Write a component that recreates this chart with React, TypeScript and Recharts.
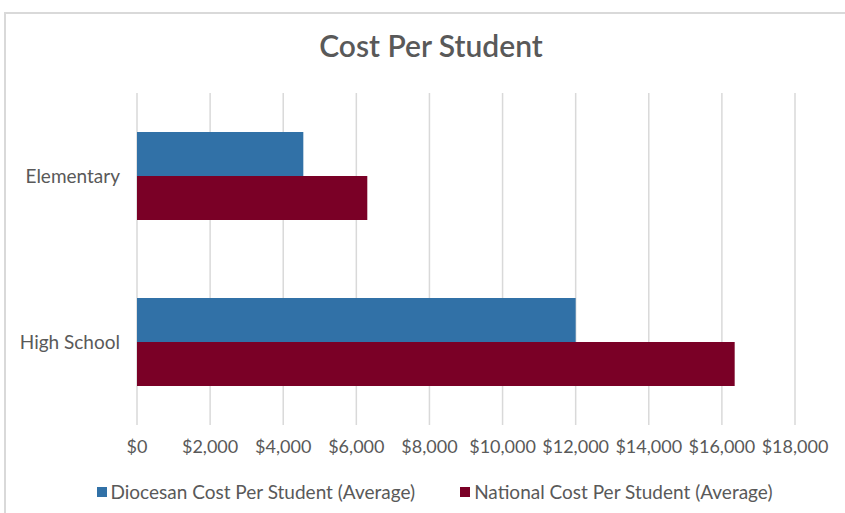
import React from "react";
import { BarChart, Bar, XAxis, YAxis, CartesianGrid, Legend } from "recharts";

const categories = ["Elementary", "High School"];
const diocesanCost = [4550, 12000];
const nationalCost = [6300, 16350];
const xTicks = [0, 2000, 4000, 6000, 8000, 10000, 12000, 14000, 16000, 18000];

const seriesNames = ["Diocesan Cost Per Student (Average)", "National Cost Per Student (Average)"];
const COLORS = ["#3171a7", "#7a0026"];

const data = categories.map((name, i) => ({
  name,
  diocesan: diocesanCost[i],
  national: nationalCost[i],
}));

const FONT = "Lato, 'Open Sans', sans-serif";
const TEXT = "#595959";

const fmtMoney = (v: number) => "$" + v.toLocaleString("en-US");

const LegendBox = () => (
  <div style={{ display: "flex", justifyContent: "center", fontFamily: FONT, fontSize: 19, color: TEXT, lineHeight: "23px", paddingLeft: 24 }}>
    {seriesNames.map((n, i) => (
      <span key={n} style={{ display: "inline-flex", alignItems: "center", marginRight: i === 0 ? 45 : 0 }}>
        <span style={{ width: 10, height: 10, background: COLORS[i], marginRight: 4, display: "inline-block" }} />
        {n}
      </span>
    ))}
  </div>
);

export default function App() {
  return (
    <div style={{ position: "absolute", left: 0, top: 0, width: 845, height: 513, overflow: "hidden", background: "#fff" }}>
      <div
        style={{
          position: "absolute",
          left: 4,
          top: 12,
          width: 900,
          height: 600,
          border: "2px solid #d9d9d9",
        }}
      />
      <div
        style={{
          position: "absolute",
          top: 27,
          left: 0,
          width: 862,
          textAlign: "center",
          fontFamily: FONT,
          fontSize: 30,
          fontWeight: 600,
          color: TEXT,
        }}
      >
        Cost Per Student
      </div>
      <div style={{ position: "absolute", left: 0, top: 0 }}>
        <BarChart
          width={845}
          height={513}
          data={data}
          layout="vertical"
          margin={{ top: 93, right: 50, bottom: 35, left: 0 }}
          barGap={0}
        >
          <CartesianGrid horizontal={false} stroke="#d9d9d9" strokeWidth={1.5} />
          <XAxis
            type="number"
            domain={[0, 18000]}
            ticks={xTicks}
            tickFormatter={fmtMoney}
            axisLine={false}
            tickLine={false}
            tick={{ fill: TEXT, fontSize: 18, fontFamily: FONT }}
            tickMargin={9}
            height={30}
            interval={0}
          />
          <YAxis
            type="category"
            dataKey="name"
            width={137}
            axisLine={false}
            tickLine={false}
            tick={{ fill: TEXT, fontSize: 19, fontFamily: FONT }}
            tickMargin={11}
          />
          <Legend content={<LegendBox />} wrapperStyle={{ top: 480, left: 0, width: 845 }} />
          <Bar dataKey="diocesan" name={seriesNames[0]} fill={COLORS[0]} barSize={44} isAnimationActive={false} />
          <Bar dataKey="national" name={seriesNames[1]} fill={COLORS[1]} barSize={44} isAnimationActive={false} />
        </BarChart>
      </div>
    </div>
  );
}
